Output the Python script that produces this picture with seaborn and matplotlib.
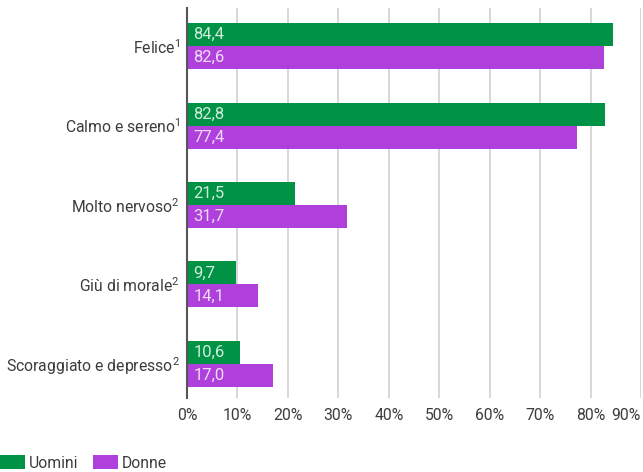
import matplotlib
matplotlib.use("Agg")
import matplotlib.pyplot as plt
import seaborn as sns
import pandas as pd
from matplotlib.patches import Patch

categories = ["Felice$^{1}$", "Calmo e sereno$^{1}$", "Molto nervoso$^{2}$",
              "Giù di morale$^{2}$", "Scoraggiato e depresso$^{2}$"]
uomini = [84.4, 82.8, 21.5, 9.7, 10.6]
donne = [82.6, 77.4, 31.7, 14.1, 17.0]
series = ["Uomini", "Donne"]
xticks = [0, 10, 20, 30, 40, 50, 60, 70, 80, 90]

colors = {"Uomini": "#009245", "Donne": "#B040DC"}

df = pd.DataFrame({
    "cat": categories * 2,
    "val": uomini + donne,
    "serie": ["Uomini"] * len(categories) + ["Donne"] * len(categories),
})

sns.set_style("white")
plt.rcParams["font.family"] = ["Roboto", "DejaVu Sans"]
plt.rcParams["mathtext.fontset"] = "custom"
plt.rcParams["mathtext.rm"] = "Roboto"
plt.rcParams["mathtext.it"] = "Roboto"
plt.rcParams["mathtext.bf"] = "Roboto"

W, H = 643, 472
fig = plt.figure(figsize=(W / 100, H / 100), dpi=100)
top_px, bot_px, left_px, right_px = 8, 398, 187, 641
ax = fig.add_axes([left_px / W, 1 - bot_px / H, (right_px - left_px) / W, (bot_px - top_px) / H])

sns.barplot(data=df, y="cat", x="val", hue="serie", order=categories,
            hue_order=series, palette=colors, orient="h", width=0.58,
            ax=ax, legend=False, saturation=1, edgecolor="none")

ax.set_xlim(0, 90)
ax.set_ylim(4.43, -0.48)
ax.set_xticks(xticks)
ax.set_xticklabels([f"{t}%" for t in xticks])
labs = ax.get_xticklabels()
labs[-1].set_horizontalalignment("right")
ax.set_xlabel("")
ax.set_ylabel("")
ax.tick_params(axis="both", length=0, labelsize=11.3, colors="#3c3c3c")
ax.tick_params(axis="x", pad=7)
ax.tick_params(axis="y", pad=5)
ax.grid(axis="x", color="#d4d4d4", linewidth=1.3)
ax.set_axisbelow(True)
for s in ["top", "right", "bottom"]:
    ax.spines[s].set_visible(False)
ax.spines["left"].set_color("#555555")
ax.spines["left"].set_linewidth(1.5)
ax.spines["left"].set_zorder(5)

vals_all = {"Uomini": uomini, "Donne": donne}
for container, s in zip(ax.containers, series):
    for patch, v in zip(container.patches, vals_all[s]):
        yc = patch.get_y() + patch.get_height() / 2
        ax.annotate(f"{v:.1f}".replace(".", ","), xy=(0, yc), xytext=(4.5, 0),
                    textcoords="offset points", ha="left", va="center",
                    fontsize=12, color="#ffffff", alpha=0.82)

handles = [Patch(facecolor=colors[s], edgecolor="none", label=s) for s in series]
fig.legend(handles=handles, loc="lower left", bbox_to_anchor=(0, 0.003),
           ncol=2, frameon=False, fontsize=11.3, handlelength=1.6,
           handleheight=1.0, handletextpad=0.25, columnspacing=0.9,
           borderpad=0, borderaxespad=0, labelcolor="#3c3c3c")

fig.savefig("out.png", dpi=100)
